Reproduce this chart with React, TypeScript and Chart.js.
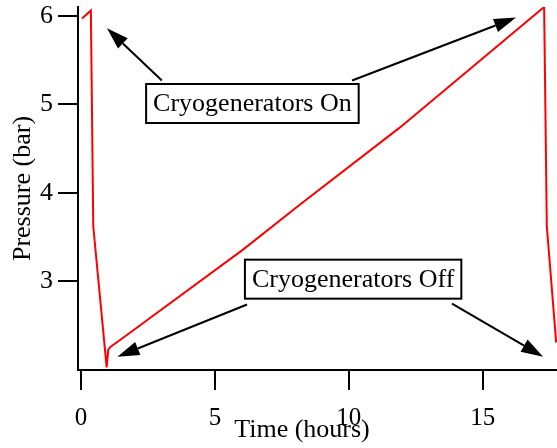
import React, { useEffect, useRef } from "react";
import { Chart, registerables } from "chart.js";

Chart.register(...registerables);

// Time (hours) and pressure (bar) samples
const timeHours = [0.04, 0.37, 0.46, 0.96, 1.02, 1.1, 1.83, 6.05, 8.18, 11.91, 17.29, 17.39, 17.74];
const pressureBar = [5.97, 6.06, 3.62, 2.03, 2.23, 2.26, 2.42, 3.36, 3.87, 4.74, 6.1, 3.62, 2.31];

const xTickValues = [0, 5, 10, 15];
const yTickValues = [3, 4, 5, 6];

// Annotation labels (box centre in data coords)
const labelTexts = ["Cryogenerators On", "Cryogenerators Off"];
const labelX = [6.4, 10.16];
const labelY = [5.01, 3.026];

// Arrows: start (x0,y0) -> tip (x1,y1), in data coords
const arrowX0 = [3.02, 10.12, 6.2, 13.85];
const arrowY0 = [5.27, 5.27, 2.74, 2.75];
const arrowX1 = [0.97, 16.24, 1.36, 17.25];
const arrowY1 = [5.86, 5.98, 2.15, 2.15];

const FONT = "'Liberation Serif', 'Times New Roman', serif";

const annotationPlugin = {
  id: "annotations",
  afterDraw(chart: any) {
    const { ctx } = chart;
    const xs = chart.scales.x;
    const ys = chart.scales.y;
    ctx.save();
    // arrows
    ctx.strokeStyle = "#000";
    ctx.fillStyle = "#000";
    ctx.lineWidth = 2;
    for (let i = 0; i < arrowX0.length; i++) {
      const x0 = xs.getPixelForValue(arrowX0[i]);
      const y0 = ys.getPixelForValue(arrowY0[i]);
      const x1 = xs.getPixelForValue(arrowX1[i]);
      const y1 = ys.getPixelForValue(arrowY1[i]);
      const ang = Math.atan2(y1 - y0, x1 - x0);
      const headLen = 22;
      const headW = 7;
      const bx = x1 - headLen * Math.cos(ang);
      const by = y1 - headLen * Math.sin(ang);
      ctx.beginPath();
      ctx.moveTo(x0, y0);
      ctx.lineTo(bx, by);
      ctx.stroke();
      ctx.beginPath();
      ctx.moveTo(x1, y1);
      ctx.lineTo(bx + headW * Math.sin(ang), by - headW * Math.cos(ang));
      ctx.lineTo(bx - headW * Math.sin(ang), by + headW * Math.cos(ang));
      ctx.closePath();
      ctx.fill();
    }
    // label boxes
    ctx.font = `26px ${FONT}`;
    ctx.textAlign = "center";
    ctx.textBaseline = "middle";
    for (let i = 0; i < labelTexts.length; i++) {
      const cx = xs.getPixelForValue(labelX[i]);
      const cy = ys.getPixelForValue(labelY[i]);
      const w = ctx.measureText(labelTexts[i]).width + 14;
      const h = 39;
      ctx.fillStyle = "#fff";
      ctx.fillRect(cx - w / 2, cy - h / 2, w, h);
      ctx.strokeStyle = "#000";
      ctx.lineWidth = 2;
      ctx.strokeRect(cx - w / 2, cy - h / 2, w, h);
      ctx.fillStyle = "#000";
      ctx.fillText(labelTexts[i], cx, cy + 1);
    }
    // x-axis title
    ctx.font = `26px ${FONT}`;
    ctx.textAlign = "center";
    ctx.textBaseline = "alphabetic";
    ctx.fillStyle = "#000";
    ctx.fillText("Time (hours)", 302, 437);
    ctx.restore();
  },
};

export default function App() {
  const ref = useRef<HTMLCanvasElement | null>(null);
  useEffect(() => {
    if (!ref.current) return;
    const chart = new Chart(ref.current, {
      type: "line",
      data: {
        datasets: [
          {
            data: timeHours.map((t, i) => ({ x: t, y: pressureBar[i] })),
            borderColor: "rgb(255,0,0)",
            borderWidth: 2,
            pointRadius: 0,
            fill: false,
            tension: 0,
          },
        ],
      },
      options: {
        animation: false,
        responsive: false,
        devicePixelRatio: 1,
        layout: { padding: { top: 7, right: 0, left: 0, bottom: 0 } },
        plugins: { legend: { display: false }, tooltip: { enabled: false } },
        scales: {
          x: {
            type: "linear",
            min: -0.11,
            max: 17.77,
            afterBuildTicks: (s: any) => {
              s.ticks = xTickValues.map((v) => ({ value: v }));
            },
            afterFit: (s: any) => {
              s.height = 78;
              s.paddingLeft = 0;
              s.paddingRight = 0;
            },
            border: { display: true, color: "#000", width: 2 },
            grid: {
              display: true,
              drawOnChartArea: false,
              drawTicks: true,
              tickLength: 20,
              color: "#000",
              lineWidth: 2,
            },
            ticks: {
              color: "#000",
              font: { family: FONT, size: 25 },
              padding: 13,
              maxRotation: 0,
              autoSkip: false,
            },
          },
          y: {
            type: "linear",
            min: 2.0,
            max: 6.1,
            afterBuildTicks: (s: any) => {
              s.ticks = yTickValues.map((v) => ({ value: v }));
            },
            afterFit: (s: any) => {
              s.width = 78;
              s.paddingTop = 0;
              s.paddingBottom = 0;
            },
            border: { display: true, color: "#000", width: 2 },
            grid: {
              display: true,
              drawOnChartArea: false,
              drawTicks: true,
              tickLength: 20,
              color: "#000",
              lineWidth: 2,
            },
            ticks: {
              color: "#000",
              font: { family: FONT, size: 26 },
              padding: 5,
              autoSkip: false,
            },
            title: {
              display: true,
              text: "Pressure (bar)",
              color: "#000",
              font: { family: FONT, size: 26 },
              padding: { top: 8, bottom: 0 },
            },
          },
        },
      },
      plugins: [annotationPlugin],
    });
    return () => chart.destroy();
  }, []);
  return (
    <div style={{ position: "fixed", left: 0, top: 0, width: 557, height: 448, background: "#fff" }}>
      <canvas ref={ref} width={557} height={448} />
    </div>
  );
}
